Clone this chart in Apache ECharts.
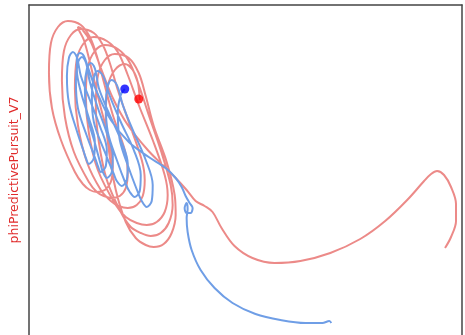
<!DOCTYPE html>
<html>
<head>
<meta charset="utf-8">
<script src="https://cdn.jsdelivr.net/npm/echarts@6/dist/echarts.min.js"></script>
<style>
  html, body { margin: 0; padding: 0; background: #fff; }
  #chart { width: 465px; height: 335px; }
</style>
</head>
<body>
<div id="chart"></div>
<script>
// Phase trajectory of the pursuit variable (y = phiPredictivePursuit_V7)
const yName = 'phiPredictivePursuit_V7';

// Trajectory of the predicted pursuit (red)
const redPath = [
  [139,100],[137,82],[132,70],[124,64],
  [114,70],[107,86],[105,116],[108,150],[115,190],[125,222],[135,238],[145,245],[153,247],
  [163,244],[171,233],[175,215],[174,195],[166,162],[153,126],[145,96],[138,73],[128,58],[114,54],
  [104,60],[97,76],[95,106],[98,142],[106,180],[120,212],[130,227],[140,233],[150,236],
  [160,233],[168,223],[172,205],[170,185],[160,150],[148,115],[138,85],[128,61],[117,49],[104,45],
  [94,51],[87,67],[85,97],[88,133],[97,170],[115,205],[125,217],[136,223],[146,225],
  [156,222],[164,212],[167,195],[164,175],[152,140],[138,105],[127,75],[117,52],[106,41],[93,37],
  [83,43],[76,59],[74,89],[77,125],[86,162],[100,190],[110,201],[118,206],[127,208],
  [136,205],[142,196],[144,180],[141,160],[128,122],[117,90],[109,63],[102,45],[93,33],[80,29],
  [70,35],[63,51],[61,81],[64,117],[73,152],[88,182],[96,192],[103,196],[111,198],
  [119,196],[125,188],[127,172],[124,150],[112,115],[103,82],[96,56],[89,37],[80,25],[67,21],
  [57,27],[50,43],[48,73],[51,108],[60,140],[74,172],[82,184],[89,190],[96,192],
  [104,190],[110,182],[112,167],[108,140],[98,100],[89,62],[83,40],[78,30],[77,27],
  [81,29],[90,42],[100,68],[112,98],[127,125],[147,150],[163,166],[175,178],
  [186,190],[195,201],[204,206],[212,212],[221,228],[234,246],[252,258],[274,263],
  [300,261],[330,253],[360,239],[385,221],[408,199],[424,181],[431,174],[437,171],
  [444,175],[451,187],[456,204],[456,221],[451,237],[445,248]
];

// Trajectory of the measured pursuit (blue)
const bluePath = [
  [124,89],
  [120,95],[117,112],[119,140],[128,168],[137,192],[141,201],[146,207],
  [151,201],[152,185],[145,160],[132,130],[122,105],[118,90],[115,83],[111,80],
  [107,86],[105,104],[107,132],[116,160],[125,184],[129,192],[134,197],
  [139,191],[140,175],[133,150],[120,122],[109,96],[104,80],[101,74],[97,71],
  [93,77],[91,95],[93,122],[104,152],[113,174],[116,181],[121,186],
  [126,180],[127,164],[120,140],[108,113],[98,88],[95,72],[93,66],[90,63],
  [86,69],[84,87],[86,114],[94,143],[100,165],[102,172],[106,178],
  [111,172],[112,156],[106,133],[97,108],[89,82],[86,66],[84,60],[81,57],
  [77,63],[75,81],[77,108],[86,136],[95,160],[97,166],[100,172],
  [105,166],[106,150],[99,126],[89,100],[80,76],[77,61],[75,55],[72,52],
  [68,58],[66,76],[68,103],[76,131],[83,152],[85,158],[88,164],
  [93,158],[94,142],[88,118],[80,92],[76,70],[76,58],[79,53],[83,56],
  [88,70],[96,92],[110,120],[128,142],[148,157],[165,168],[175,178],
  [181,187],[185,196],[189,203],[192,208],[190,213],[186,213],[184,208],[186,203],
  [187,209],[186,218],[187,232],[191,250],[200,270],[214,288],[232,303],[255,314],
  [280,320],[305,323],[322,323],[329,321],[331,323]
];

// Current-state markers
const redDot = [[138,99]];
const blueDot = [[124,89]];

const frameLine = { show: true, onZero: false, lineStyle: { color: '#444', width: 1.5 } };
const hidden = { show: false };

const chart = echarts.init(document.getElementById('chart'), null, { renderer: 'canvas' });
chart.setOption({
  animation: false,
  backgroundColor: '#ffffff',
  grid: { left: 28, top: 5, right: 3, bottom: 0 },
  xAxis: {
    type: 'value', min: 28, max: 462, position: 'top',
    axisLine: frameLine, axisTick: hidden, axisLabel: hidden, splitLine: hidden
  },
  yAxis: [
    {
      type: 'value', min: 5, max: 335, inverse: true, position: 'left',
      name: yName,
      nameLocation: 'middle',
      nameGap: 8,
      nameTextStyle: { color: '#e02a2a', fontSize: 12.5, fontFamily: 'DejaVu Sans' },
      axisLine: frameLine, axisTick: hidden, axisLabel: hidden, splitLine: hidden
    },
    {
      type: 'value', min: 5, max: 335, inverse: true, position: 'right',
      axisLine: frameLine, axisTick: hidden, axisLabel: hidden, splitLine: hidden
    }
  ],
  series: [
    {
      type: 'line', data: redPath, smooth: 0.35, showSymbol: false,
      lineStyle: { color: '#ec8a88', width: 2 }, z: 2
    },
    {
      type: 'line', data: bluePath, smooth: 0.35, showSymbol: false,
      lineStyle: { color: '#6f9ee6', width: 2 }, z: 3
    },
    {
      type: 'scatter', data: blueDot, symbolSize: 9,
      itemStyle: { color: '#0000ff' }, z: 5
    },
    {
      type: 'scatter', data: redDot, symbolSize: 9,
      itemStyle: { color: '#ff0000' }, z: 5
    }
  ]
});
</script>
</body>
</html>
